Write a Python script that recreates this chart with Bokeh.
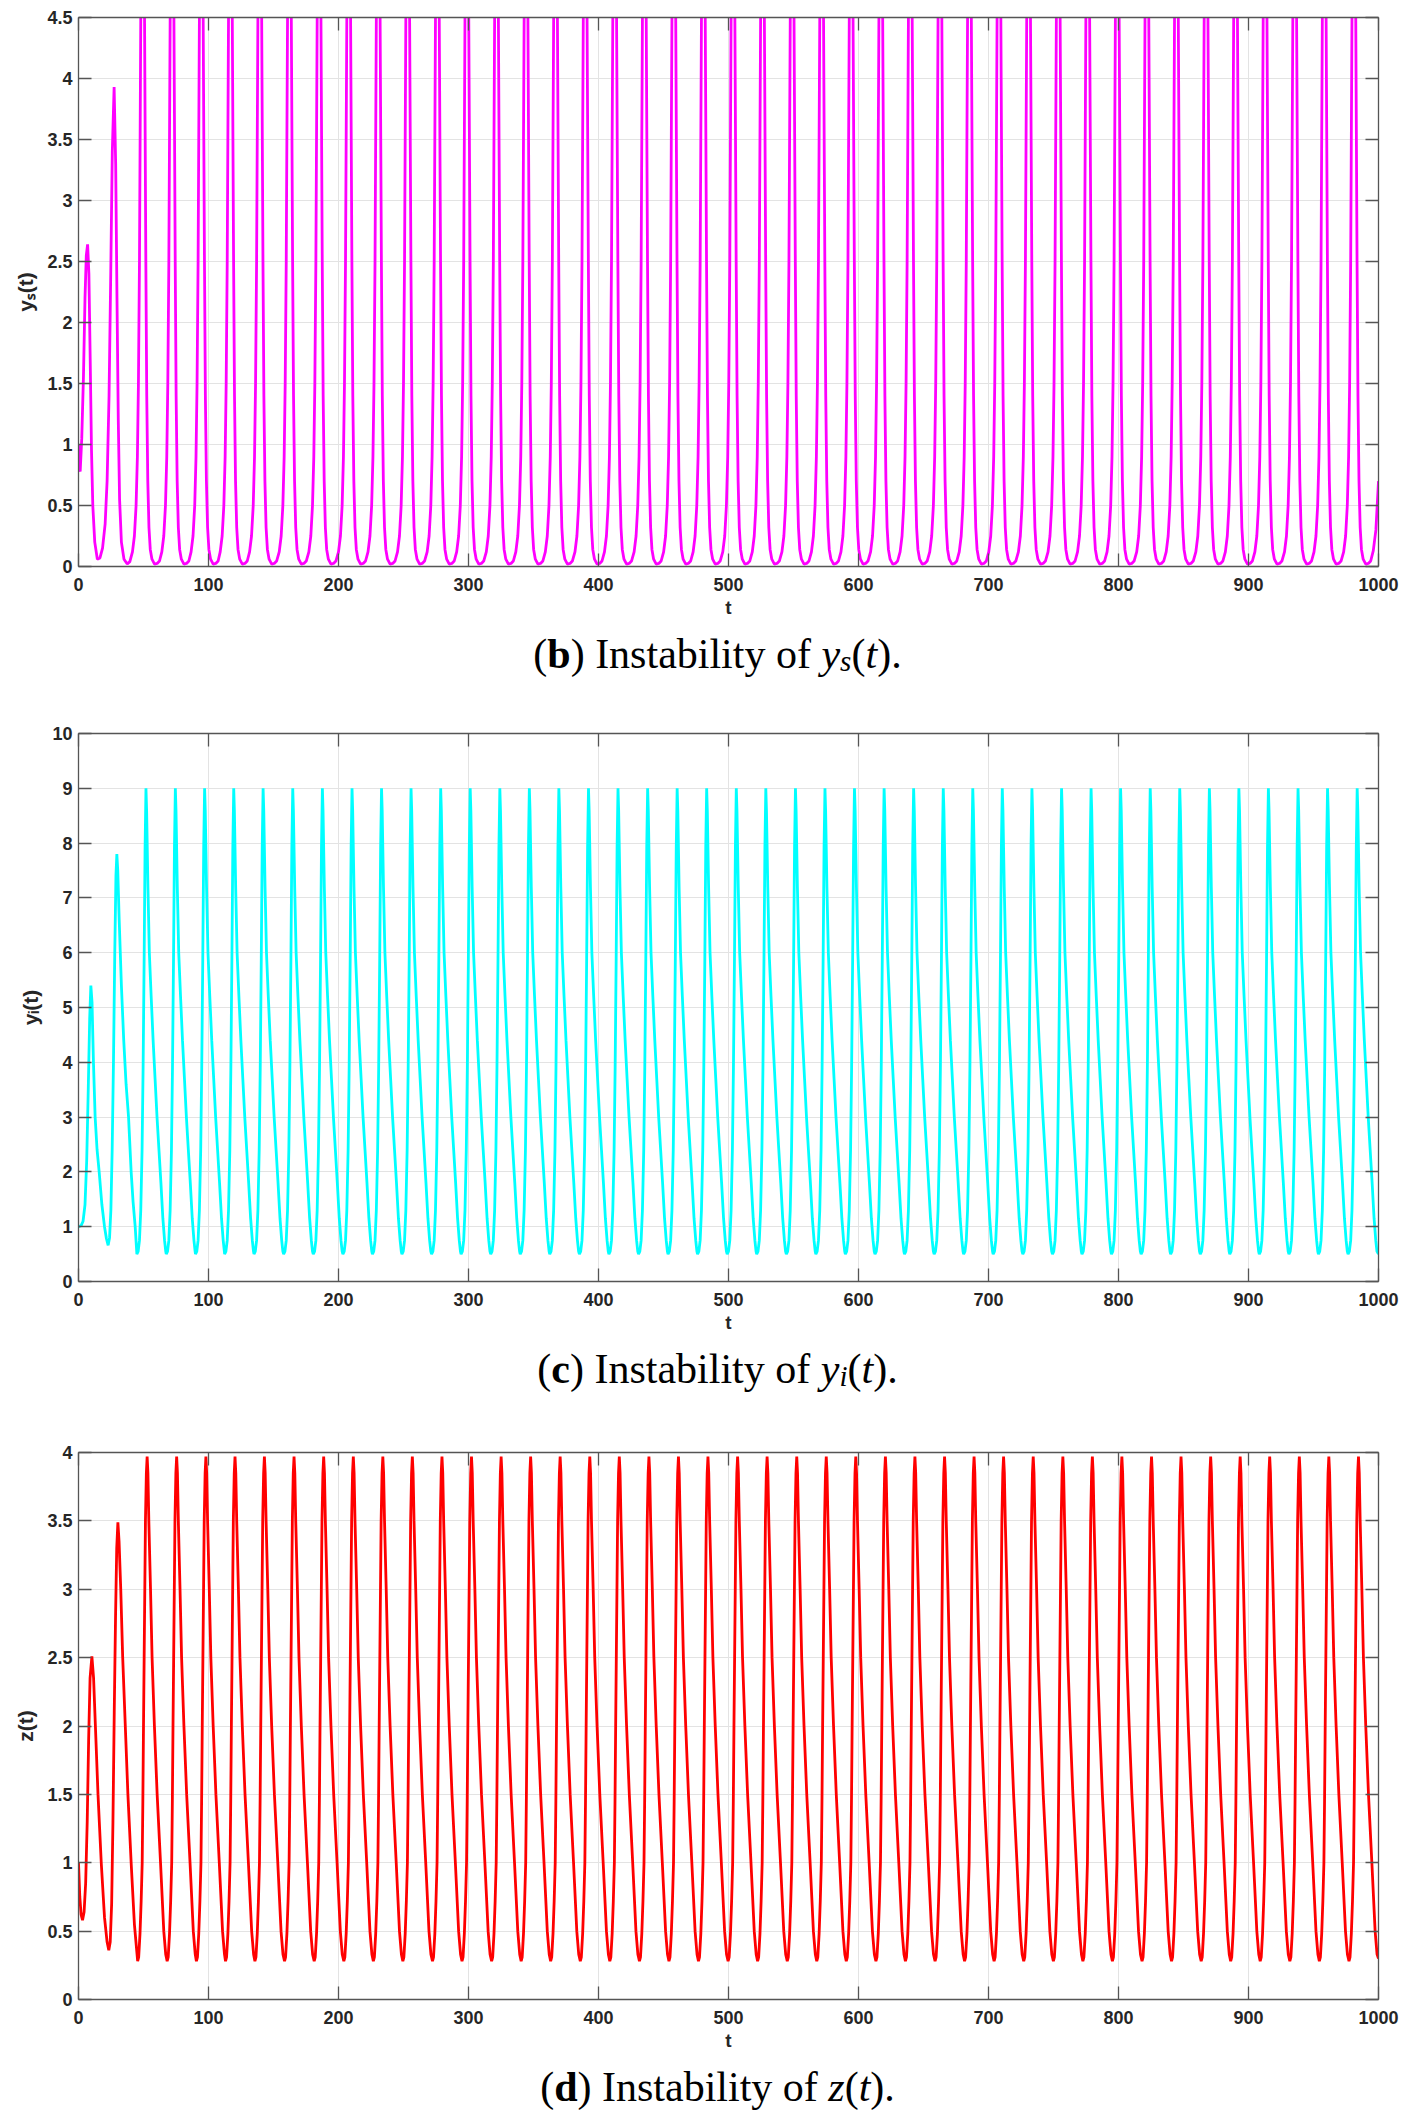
from bokeh.plotting import figure
from bokeh.models import Range1d, LinearAxis, FixedTicker, NumeralTickFormatter, Label
from bokeh.layouts import column
from bokeh.embed import file_html
from bokeh.resources import INLINE

# ---- data ----
# y_s(t): first two (transient) spikes, then one repeating spike shape placed at each read peak time
ys_start_t = [0.0, 0.3, 1.3, 2.5, 3.8, 5.0, 6.0, 7.0, 8.0, 9.0, 10.0, 11.0, 12.5, 14.5, 16.5,
              18.5, 20.5, 22.0, 23.5, 24.8, 26.0, 27.4, 28.6, 29.6, 30.6, 31.6, 33.0, 35.0, 37.5, 39.5]
ys_start_v = [1.0, 0.8, 0.78, 1.05, 1.55, 2.2, 2.55, 2.64, 2.4, 1.7, 0.95, 0.5, 0.2, 0.06, 0.07,
              0.15, 0.35, 0.7, 1.4, 2.4, 3.4, 3.93, 3.3, 2.2, 1.2, 0.55, 0.2, 0.06, 0.02, 0.04]
ys_cycle_dt = [-8.0, -6.5, -5.2, -4.2, -3.4, -2.6, -1.6, -0.8, 0.0, 0.7, 1.3, 2.3, 3.0, 3.8,
               4.7, 5.7, 7.0, 9.0, 11.0, 12.8]
ys_cycle_v = [0.12, 0.25, 0.5, 0.9, 1.5, 2.5, 4.5, 5.6, 6.0, 5.6, 4.5, 2.5, 1.4, 0.7,
              0.32, 0.14, 0.06, 0.02, 0.025, 0.045]
ys_peaks = [49.5, 72.1, 94.6, 117.0, 139.6, 162.4, 185.2, 208.0, 230.7, 253.4, 276.2, 298.9,
            321.7, 344.4, 367.1, 389.9, 412.6, 435.4, 458.1, 480.8, 503.6, 526.3, 549.1, 571.8,
            594.5, 617.3, 640.0, 662.8, 685.5, 708.2, 731.0, 753.8, 776.5, 799.2, 822.0, 844.7,
            867.5, 890.2, 912.9, 935.7, 958.4, 981.2]
ys_end_t = [996.0, 998.0, 1000.0]
ys_end_v = [0.13, 0.3, 0.7]

# y_i(t)
yi_start_t = [0.0, 2.0, 3.5, 5.0, 6.3, 7.5, 8.6, 9.5, 10.4, 11.5, 12.8, 14.3, 15.9, 18.0, 20.0,
              21.5, 22.8, 23.9, 24.9, 25.9, 26.9, 27.9, 28.8, 29.5, 30.2, 31.3, 33.0, 34.8, 36.6,
              38.5, 40.5, 42.0, 43.6]
yi_start_v = [1.0, 1.02, 1.1, 1.4, 2.2, 3.5, 4.8, 5.4, 5.1, 4.0, 3.0, 2.4, 2.0, 1.4, 1.0,
              0.78, 0.66, 0.8, 1.3, 2.4, 4.0, 6.0, 7.4, 7.8, 7.5, 6.6, 5.4, 4.4, 3.6,
              3.0, 2.0, 1.45, 1.0]
yi_cycle_dt = [-7.0, -6.0, -5.0, -4.0, -3.0, -2.2, -1.4, -0.7, 0.0, 0.5, 1.5, 2.6, 4.0, 5.5,
               7.0, 8.5, 10.0, 11.5, 13.0, 14.3, 15.2]
yi_cycle_v = [0.5, 0.55, 0.75, 1.3, 2.4, 3.9, 5.9, 7.9, 9.0, 8.6, 7.2, 6.0, 5.2, 4.4,
              3.7, 3.0, 2.4, 1.8, 1.15, 0.75, 0.55]
yi_peaks = [51.9, 74.5, 97.0, 119.4, 142.0, 164.8, 187.6, 210.4, 233.1, 255.8, 278.6, 301.3,
            324.1, 346.8, 369.5, 392.3, 415.0, 437.8, 460.5, 483.2, 506.0, 528.7, 551.5, 574.2,
            596.9, 619.7, 642.4, 665.2, 687.9, 710.6, 733.4, 756.2, 778.9, 801.6, 824.4, 847.1,
            869.9, 892.6, 915.3, 938.1, 960.8, 983.6]
yi_end_t = [1000.0]
yi_end_v = [0.5]

# z(t)
z_start_t = [0.0, 1.0, 2.0, 3.1, 4.3, 5.5, 6.7, 7.8, 8.9, 10.3, 11.6, 13.0, 15.0, 17.5, 20.0,
             22.0, 23.3, 24.4, 25.5, 26.5, 27.5, 28.5, 29.4, 30.3, 31.2, 32.5, 34.0, 36.0, 38.0,
             40.5, 43.0]
z_start_v = [1.0, 0.75, 0.62, 0.58, 0.64, 0.85, 1.3, 1.9, 2.35, 2.51, 2.35, 2.0, 1.5, 1.0, 0.6,
             0.42, 0.36, 0.42, 0.7, 1.3, 2.1, 2.8, 3.3, 3.49, 3.35, 3.0, 2.5, 2.0, 1.5,
             1.0, 0.55]
z_cycle_dt = [-7.3, -6.5, -5.5, -4.6, -3.8, -3.3, -2.8, -2.3, -1.8, -1.3, -0.6, 0.0, 0.6, 1.3,
              2.6, 3.8, 5.6, 7.7, 10.3, 12.8, 14.3]
z_cycle_v = [0.28, 0.31, 0.48, 0.72, 1.0, 1.45, 2.0, 2.5, 3.0, 3.5, 3.85, 3.97, 3.85, 3.5,
             3.0, 2.5, 2.0, 1.5, 1.0, 0.5, 0.33]
z_peaks = [52.8, 75.5, 98.0, 120.4, 143.0, 165.8, 188.6, 211.4, 234.1, 256.8, 279.6, 302.3,
           325.1, 347.8, 370.5, 393.3, 416.0, 438.8, 461.5, 484.2, 507.0, 529.7, 552.5, 575.2,
           597.9, 620.7, 643.4, 666.2, 688.9, 711.6, 734.4, 757.2, 779.9, 802.6, 825.4, 848.1,
           870.9, 893.6, 916.3, 939.1, 961.8, 984.6]
z_end_t = [1000.0]
z_end_v = [0.3]

x_ticks = [0, 100, 200, 300, 400, 500, 600, 700, 800, 900, 1000]
ys_ticks = [0, 0.5, 1, 1.5, 2, 2.5, 3, 3.5, 4, 4.5]
yi_ticks = [0, 1, 2, 3, 4, 5, 6, 7, 8, 9, 10]
z_ticks = [0, 0.5, 1, 1.5, 2, 2.5, 3, 3.5, 4]


def build(start_t, start_v, peaks, cyc_dt, cyc_v, end_t, end_v):
    t, v = list(start_t), list(start_v)
    for pk in peaks:
        for d, y in zip(cyc_dt, cyc_v):
            t.append(pk + d)
            v.append(y)
    return t + list(end_t), v + list(end_v)


W = 1400
LEFT = 78
FRAME_W = 1300
AX = "#555555"
TXT = "#262626"
SANS = "Liberation Sans"
SERIF = "Liberation Serif"
CAP_SIZE = 42


def make_panel(t, v, color, ymax, yticks, ylabel, height, top):
    p = figure(width=W, height=height, x_range=Range1d(0, 1000), y_range=Range1d(0, ymax),
               output_backend="svg", toolbar_location=None, tools="",
               min_border_left=LEFT, min_border_right=W - LEFT - FRAME_W, min_border_top=top,
               min_border_bottom=60, outline_line_color=None,
               background_fill_color="white", border_fill_color="white")
    p.line(t, v, color=color, line_width=2.8)

    xa = p.below[0]
    ya = p.left[0]
    xa.ticker = FixedTicker(ticks=x_ticks)
    ya.ticker = FixedTicker(ticks=yticks)
    ya.formatter = NumeralTickFormatter(format="0.[0]")
    xa.axis_label = "t"
    ya.axis_label = ylabel

    top_ax = LinearAxis(ticker=FixedTicker(ticks=x_ticks))
    right_ax = LinearAxis(ticker=FixedTicker(ticks=yticks))
    p.add_layout(top_ax, "above")
    p.add_layout(right_ax, "right")

    for ax in [xa, ya, top_ax, right_ax]:
        ax.axis_line_color = AX
        ax.axis_line_width = 1.3
        ax.major_tick_line_color = AX
        ax.major_tick_line_width = 1.3
        ax.major_tick_in = 13
        ax.major_tick_out = 0
        ax.minor_tick_line_color = None
        ax.major_label_text_font = SANS
        ax.major_label_text_font_style = "bold"
        ax.major_label_text_font_size = "18px"
        ax.major_label_text_color = TXT
        ax.axis_label_text_font = SANS
        ax.axis_label_text_font_style = "bold"
        ax.axis_label_text_font_size = "19px"
        ax.axis_label_text_color = TXT
    for ax in [top_ax, right_ax]:
        ax.major_label_text_color = None
        ax.major_label_text_font_size = "0px"
        ax.major_label_standoff = 0
    ya.axis_label_text_font_size = "21px"
    xa.major_label_standoff = 11
    xa.axis_label_standoff = 3
    ya.major_label_standoff = 6
    ya.axis_label_standoff = 7

    p.xgrid.ticker = FixedTicker(ticks=x_ticks)
    p.ygrid.ticker = FixedTicker(ticks=yticks)
    p.grid.grid_line_color = "#e3e3e3"
    p.grid.grid_line_width = 1
    return p


def make_caption(pieces, height, baseline):
    # pieces: (text, style, size factor, drop px, width in em); x measured from the frame's left edge
    c = figure(width=W, height=height, x_range=Range1d(0, FRAME_W), y_range=Range1d(0, height),
               output_backend="svg", toolbar_location=None, tools="",
               x_axis_type=None, y_axis_type=None, min_border=0,
               min_border_left=LEFT, min_border_right=W - LEFT - FRAME_W,
               outline_line_color=None, background_fill_color="white",
               border_fill_color="white")
    total = sum(pc[4] for pc in pieces) * CAP_SIZE
    x = 639 - total / 2
    for text, style, fac, drop, w in pieces:
        c.add_layout(Label(x=x, y=baseline - drop, text=text, text_font=SERIF,
                           text_font_style=style, text_font_size=f"{CAP_SIZE * fac:.0f}px",
                           text_color="black", text_align="left", text_baseline="alphabetic"))
        x += w * CAP_SIZE
    return c


ys_t, ys_v = build(ys_start_t, ys_start_v, ys_peaks, ys_cycle_dt, ys_cycle_v, ys_end_t, ys_end_v)
yi_t, yi_v = build(yi_start_t, yi_start_v, yi_peaks, yi_cycle_dt, yi_cycle_v, yi_end_t, yi_end_v)
z_t, z_v = build(z_start_t, z_start_v, z_peaks, z_cycle_dt, z_cycle_v, z_end_t, z_end_v)

p1 = make_panel(ys_t, ys_v, "#ff00ff", 4.5, ys_ticks, "y\u209b(t)", 626, 17)
c1 = make_caption([("(", "normal", 1, 0, 0.333), ("b", "bold", 1, 0, 0.556),
                   (") Instability of", "normal", 1, 0, 5.972), ("y", "italic", 1, 0, 0.444),
                   ("s", "italic", 0.7, 7, 0.272), ("(", "normal", 1, 0, 0.333),
                   ("t", "italic", 1, 0, 0.278), (").", "normal", 1, 0, 0.583)], 87, 60)

p2 = make_panel(yi_t, yi_v, "#00ffff", 10, yi_ticks, "y\u1d62(t)", 628, 20)
c2 = make_caption([("(", "normal", 1, 0, 0.333), ("c", "bold", 1, 0, 0.444),
                   (") Instability of", "normal", 1, 0, 5.972), ("y", "italic", 1, 0, 0.444),
                   ("i", "italic", 0.7, 7, 0.195), ("(", "normal", 1, 0, 0.333),
                   ("t", "italic", 1, 0, 0.278), (").", "normal", 1, 0, 0.583)], 91, 64)

p3 = make_panel(z_t, z_v, "#ff0000", 4, z_ticks, "z(t)", 627, 20)
c3 = make_caption([("(", "normal", 1, 0, 0.333), ("d", "bold", 1, 0, 0.556),
                   (") Instability of", "normal", 1, 0, 5.972), ("z", "italic", 1, 0, 0.389),
                   ("(", "normal", 1, 0, 0.333), ("t", "italic", 1, 0, 0.278),
                   (").", "normal", 1, 0, 0.583)], 69, 42)

layout = column(p1, c1, p2, c2, p3, c3)
open("out.html", "w").write(file_html(layout, INLINE))
